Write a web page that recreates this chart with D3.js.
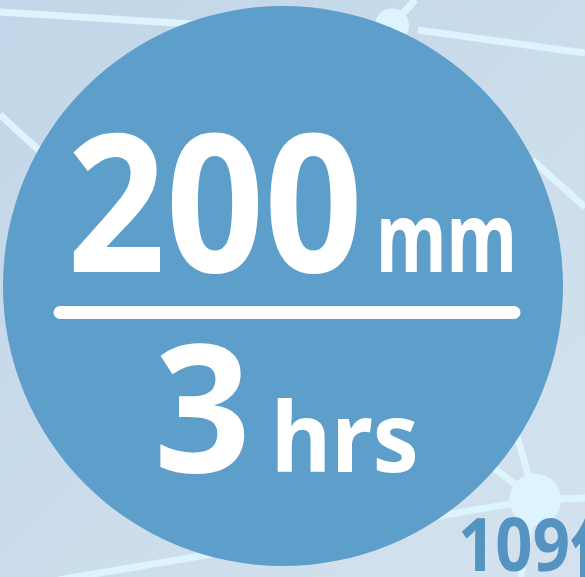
<!DOCTYPE html>
<html lang="en">
<head>
    <meta charset="utf-8">
    <script src="https://d3js.org/d3.v7.min.js"></script>
    <style>
        html, body { margin: 0; padding: 0; overflow: hidden; }
        text { font-family: "Noto Sans", "Open Sans", sans-serif; font-weight: bold; }
    </style>
</head>
<body>
<svg width="585" height="577"></svg>

<script>

// the two headline figures and their units
var values = [200, 3];
var units = ["mm", "hrs"];
var footValue = "109";
var footUnit = "亿";

// background network: node positions in a 0..100 space, and links as [from, to]
var nodeIds = ["a", "b", "tl", "l", "r1", "r2", "rt", "bl", "bd", "ul", "up", "tlEnd", "lEnd", "tr"];
var nodeX = [67, 91.5, 0, 0, 100, 100, 100, 10, 89, 70, 84, 43, 12, 71];
var nodeY = [4.4, 86.6, 2.1, 19.9, 9.2, 35.9, 86.3, 100.5, 100, 70, 60, 4.8, 31, 0];
var nodeR = [17, 26, 0, 0, 0, 0, 0, 0, 0, 0, 0, 0, 0, 0];
var links = [["a", "tr"], ["tl", "tlEnd"], ["l", "lEnd"], ["b", "rt"], ["b", "bl"],
             ["b", "bd"], ["b", "ul"], ["b", "up"]];
// the link from the top node runs to the right edge, starting a little off it
var looseLinkX = [71.4, 100];
var looseLinkY = [5.2, 9.2];
var rightLinkX = [91, 100];
var rightLinkY = [27.7, 35.9];

var svg = d3.select("svg"),
    width = +svg.attr("width"),
    height = +svg.attr("height");

var x = d3.scaleLinear().domain([0, 100]).range([0, width]);
var y = d3.scaleLinear().domain([0, 100]).range([0, height]);

var defs = svg.append("defs");
var grad = defs.append("linearGradient").attr("id", "bg")
    .attr("x1", "0%").attr("y1", "0%").attr("x2", "100%").attr("y2", "100%");
grad.append("stop").attr("offset", "0%").attr("stop-color", "#c1d6e8");
grad.append("stop").attr("offset", "100%").attr("stop-color", "#d4e2ee");

svg.append("rect").attr("width", width).attr("height", height).attr("fill", "url(#bg)");

var net = svg.append("g");
var lineColor = "#ddf3fd";

var byId = {};
nodeIds.forEach(function(id, i) { byId[id] = i; });

net.selectAll("line.link")
    .data(links)
  .enter().append("line")
    .attr("class", "link")
    .attr("x1", function(d) { return x(nodeX[byId[d[0]]]); })
    .attr("y1", function(d) { return y(nodeY[byId[d[0]]]); })
    .attr("x2", function(d) { return x(nodeX[byId[d[1]]]); })
    .attr("y2", function(d) { return y(nodeY[byId[d[1]]]); })
    .attr("stroke", lineColor)
    .attr("stroke-width", 7);

net.append("line")
    .attr("x1", x(looseLinkX[0])).attr("y1", y(looseLinkY[0]))
    .attr("x2", x(looseLinkX[1])).attr("y2", y(looseLinkY[1]))
    .attr("stroke", lineColor).attr("stroke-width", 7);

net.append("line")
    .attr("x1", x(rightLinkX[0])).attr("y1", y(rightLinkY[0]))
    .attr("x2", x(rightLinkX[1])).attr("y2", y(rightLinkY[1]))
    .attr("stroke", lineColor).attr("stroke-width", 7);

net.selectAll("circle.node")
    .data(nodeIds.filter(function(id) { return nodeR[byId[id]] > 0; }))
  .enter().append("circle")
    .attr("class", "node")
    .attr("cx", function(d) { return x(nodeX[byId[d]]); })
    .attr("cy", function(d) { return y(nodeY[byId[d]]); })
    .attr("r", function(d) { return nodeR[byId[d]]; })
    .attr("fill", lineColor);

// big disc
svg.append("circle")
    .attr("cx", 283).attr("cy", 286).attr("r", 280)
    .attr("fill", "#5e9ecb");

var fg = svg.append("g").attr("fill", "#fff");

// top figure
fg.append("text")
    .attr("x", 67).attr("y", 272)
    .attr("font-size", 192)
    .attr("textLength", 296).attr("lengthAdjust", "spacingAndGlyphs")
    .text(values[0]);
fg.append("text")
    .attr("x", 376).attr("y", 272)
    .attr("font-size", 97)
    .attr("textLength", 141).attr("lengthAdjust", "spacingAndGlyphs")
    .text(units[0]);

// divider
svg.append("line")
    .attr("x1", 60).attr("x2", 514).attr("y1", 312.5).attr("y2", 312.5)
    .attr("stroke", "#fff").attr("stroke-width", 13).attr("stroke-linecap", "round");

// bottom figure
fg.append("text")
    .attr("x", 154).attr("y", 472)
    .attr("font-size", 178)
    .attr("textLength", 97).attr("lengthAdjust", "spacingAndGlyphs")
    .text(values[1]);
fg.append("text")
    .attr("x", 271).attr("y", 472)
    .attr("font-size", 97)
    .attr("textLength", 148).attr("lengthAdjust", "spacingAndGlyphs")
    .text(units[1]);

// cut-off label at bottom right
svg.append("text")
    .attr("x", 458).attr("y", 571)
    .attr("font-size", 74)
    .attr("fill", "#5593c1")
    .attr("textLength", 112).attr("lengthAdjust", "spacingAndGlyphs")
    .text(footValue);
svg.append("text")
    .attr("x", 570).attr("y", 571)
    .attr("font-size", 66)
    .attr("fill", "#5593c1")
    .style("font-family", "'Noto Sans CJK SC', sans-serif")
    .text(footUnit);

</script>
</body>
</html>
